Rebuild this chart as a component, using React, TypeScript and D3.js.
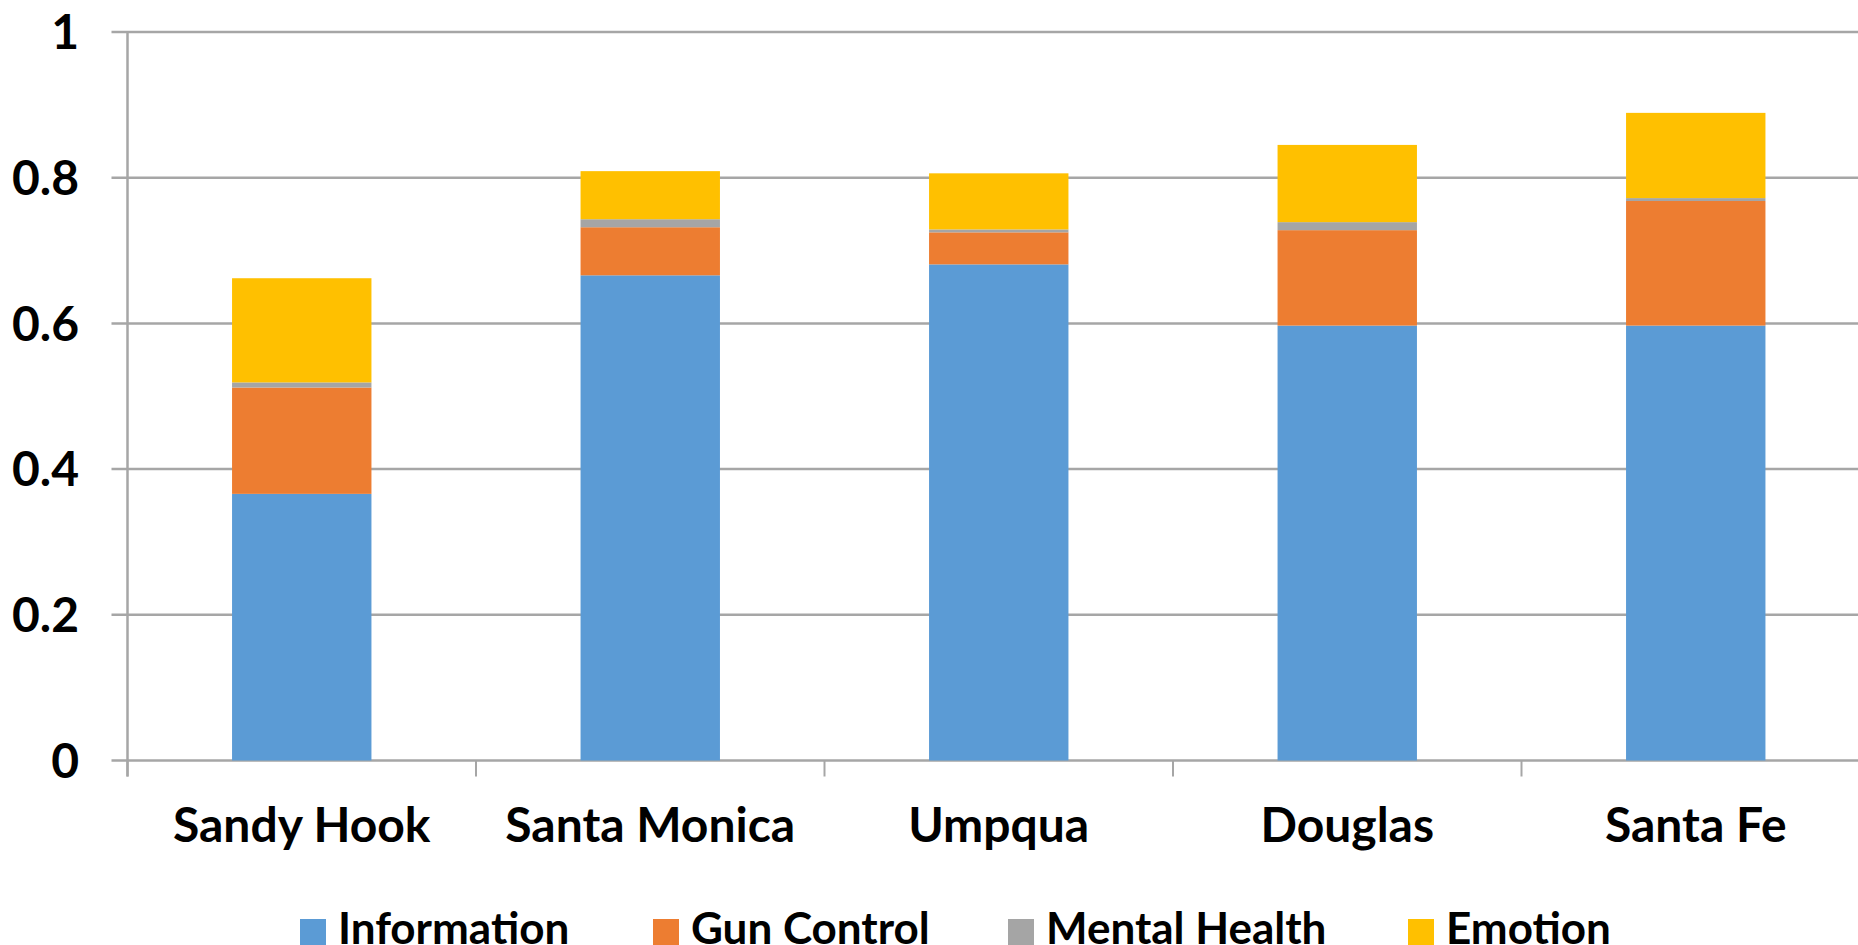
import React from "react";
import * as d3 from "d3";

const categories = ["Sandy Hook", "Santa Monica", "Umpqua", "Douglas", "Santa Fe"];
const seriesNames = ["Information", "Gun Control", "Mental Health", "Emotion"];
const information = [0.366, 0.666, 0.681, 0.597, 0.597];
const gunControl = [0.146, 0.066, 0.044, 0.131, 0.171];
const mentalHealth = [0.007, 0.011, 0.004, 0.011, 0.004];
const emotion = [0.143, 0.066, 0.077, 0.106, 0.117];
const colors = ["#5B9BD5", "#ED7D31", "#A5A5A5", "#FFC000"];
const yTicks = [0, 0.2, 0.4, 0.6, 0.8, 1];
const yTickLabels = ["0", "0.2", "0.4", "0.6", "0.8", "1"];

const W = 1858;
const H = 945;
const FONT = "Lato, 'Open Sans', sans-serif";

export default function App() {
  const left = 127.5;
  const right = 1870;
  const top = 32;
  const bottom = 760.5;
  const x = d3.scaleBand<string>().domain(categories).range([left, right]).paddingInner(0.6).paddingOuter(0.3);
  const xc = d3.scaleBand<string>().domain(categories).range([left, right]).padding(0);
  const y = d3.scaleLinear().domain([0, 1]).range([bottom, top]);

  const rows = categories.map((c, i) => ({
    cat: c,
    "Information": information[i],
    "Gun Control": gunControl[i],
    "Mental Health": mentalHealth[i],
    "Emotion": emotion[i],
  }));
  const stack = d3.stack<any>().keys(seriesNames)(rows);

  const gridColor = "#A6A6A6";
  const legendX = [300, 653, 1008, 1408];

  return (
    <svg width={W} height={H} style={{ position: "absolute", left: 0, top: 0, background: "#fff" }}>
      {yTicks.map((t) => (
        <line key={"g" + t} x1={left - 16} x2={right} y1={y(t)} y2={y(t)} stroke={gridColor} strokeWidth={2.5} />
      ))}
      <line x1={left} x2={left} y1={top} y2={bottom + 16} stroke={gridColor} strokeWidth={2.5} />
      {categories.map((c) => (
        <line key={"t" + c} x1={xc(c)!} x2={xc(c)!} y1={bottom} y2={bottom + 16} stroke={gridColor} strokeWidth={2} />
      ))}
      {stack.map((s, si) => (
        <g key={s.key} fill={colors[si]}>
          {s.map((d, i) => (
            <rect key={i} x={x(categories[i])!} width={x.bandwidth()} y={y(d[1])} height={Math.max(0, y(d[0]) - y(d[1]))} />
          ))}
        </g>
      ))}
      {yTicks.map((t, i) => (
        <text key={"l" + t} x={79} y={y(t)} dy="0.36em" textAnchor="end" fontFamily={FONT} fontWeight={700} fontSize={48} fill="#000">
          {yTickLabels[i]}
        </text>
      ))}
      {categories.map((c) => (
        <text key={"c" + c} x={xc(c)! + xc.bandwidth() / 2} y={842} textAnchor="middle" fontFamily={FONT} fontWeight={700} fontSize={48} fill="#000">
          {c}
        </text>
      ))}
      {seriesNames.map((n, i) => (
        <g key={"lg" + n}>
          <rect x={legendX[i]} y={919} width={26} height={26} fill={colors[i]} />
          <text x={legendX[i] + 38} y={944} fontFamily={FONT} fontWeight={700} fontSize={44} fill="#000">
            {n}
          </text>
        </g>
      ))}
    </svg>
  );
}
